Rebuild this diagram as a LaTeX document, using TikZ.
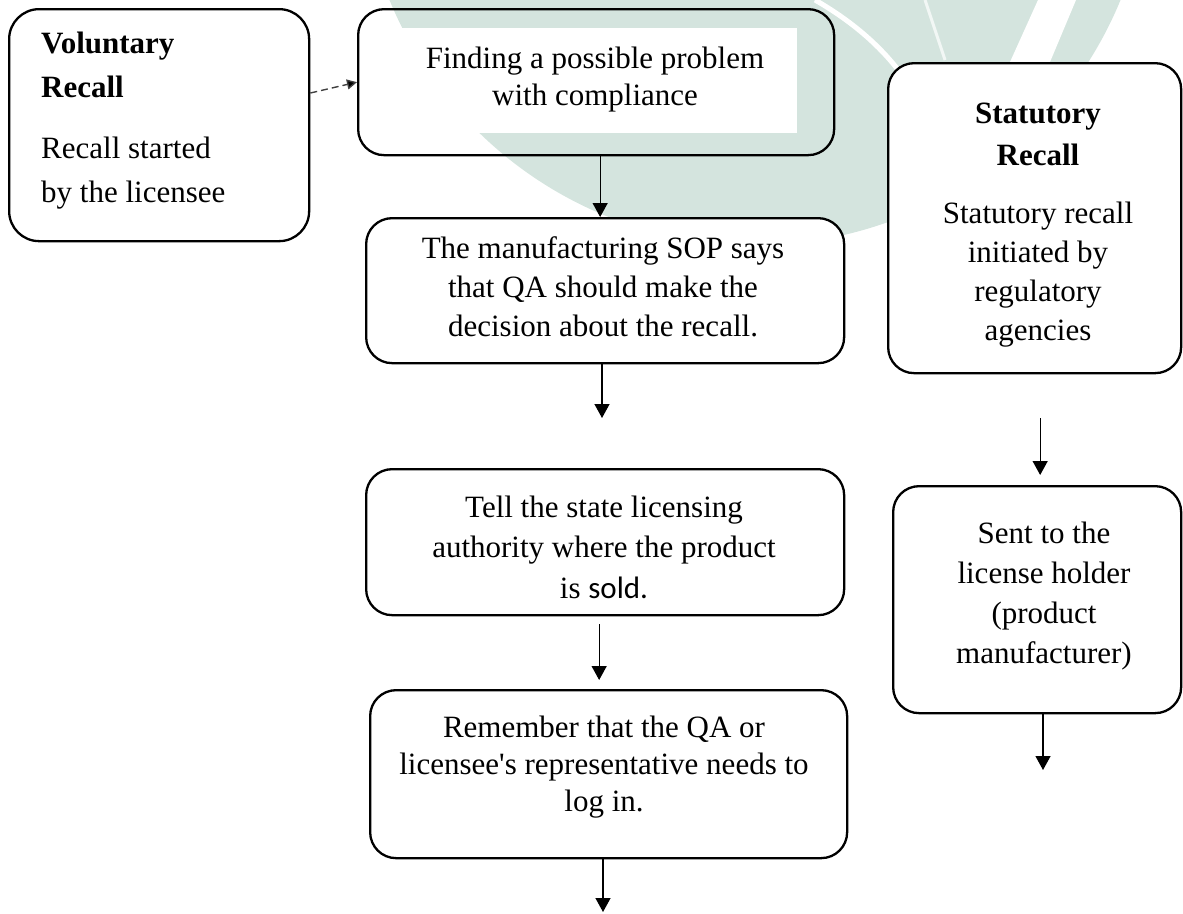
\documentclass[tikz,border=0pt]{standalone}
\usepackage{fontspec}
\setmainfont{Liberation Serif}
\newfontfamily\carlitofont{Carlito}
\usetikzlibrary{arrows.meta,calc}
\definecolor{wm}{RGB}{212,228,222}
\begin{document}
\begin{tikzpicture}[x=1pt,y=-1pt,
  box/.style={draw=black, line width=2.3pt, rounded corners=26pt, fill=white,
    anchor=north west, inner sep=0pt},
  txt/.style={inner sep=0pt, align=center, anchor=north, text=black},
  arr/.style={line width=1.3pt, -{Triangle[length=14pt,width=15pt]}},
  dasharr/.style={line width=1.4pt, draw=black!75, dash pattern=on 7pt off 4pt,
    -{Triangle[length=10pt,width=10pt,fill=black]}}
]
\useasboundingbox (0,0) rectangle (1183,913);
% watermark
\begin{scope}
\clip (0,0) rectangle (1183,913);
\fill[wm] (755,-150) circle[radius=395pt];
\draw[white, line width=5pt] (815,0) .. controls (850,20) and (880,45) .. (902,75);
\draw[white!70!wm, line width=3pt] (925,0) -- (945,60);
\fill[white] (1038,0) -- (1076,0) -- (1050,62) -- (1010,62) -- cycle;
\end{scope}

% boxes
\node[box, minimum width=300pt, minimum height=232pt, rounded corners=30pt] (vol) at (8,8) {};
\node[box, fill=none, minimum width=476pt, minimum height=146pt] (find) at (357,8) {};
\node[fill=white, inner sep=0pt, anchor=north west, minimum width=401pt, minimum height=105pt] (findbg) at (396,28) {};
\node[box, minimum width=478pt, minimum height=145pt] (manu) at (365,217) {};
\node[box, minimum width=478pt, minimum height=146pt] (tell) at (365,468) {};
\node[box, minimum width=477pt, minimum height=168pt] (remb) at (369,689) {};
\node[box, minimum width=293pt, minimum height=310pt] (stat) at (887,62) {};
\node[box, minimum width=288pt, minimum height=227pt] (sent) at (892,485) {};

% texts
\node[txt, anchor=north west, align=left, font=\fontsize{31}{44}\selectfont] (volt) at (41,22.2)
  {\strut\textbf{Voluntary}\\ \textbf{Recall}\\[17pt] Recall started\\ by the licensee};
\node[txt, font=\fontsize{31}{37}\selectfont] (findt) at (595,42.1)
  {\strut Finding a possible problem\\ with compliance};
\node[txt, font=\fontsize{31}{39}\selectfont] (manut) at (603,230.7)
  {\strut The manufacturing SOP says\\ that QA should make the\\ decision about the recall.};
\node[txt, font=\fontsize{31}{40.5}\selectfont] (tellt) at (604,488.6)
  {\strut Tell the state licensing\\ authority where the product\\ is {\carlitofont sold.}};
\node[txt, font=\fontsize{31}{37}\selectfont] (rembt) at (604,711.1)
  {\strut Remember that the QA or\\ licensee\textquotesingle s representative needs to\\ log in.};
\node[txt, font=\fontsize{31}{39}\selectfont] (statt) at (1038,95.7)
  {\strut\textbf{Statutory}\\[3pt] \textbf{Recall}\\[19pt] Statutory recall\\ initiated by\\ regulatory\\ agencies};
\node[txt, font=\fontsize{31}{40}\selectfont] (sentt) at (1044,515)
  {\strut Sent to the\\ license holder\\ (product\\ manufacturer)};

% free ends
\coordinate (manuout) at (602,418);
\coordinate (rembout) at (603,912);
\coordinate (sentout) at (1043,770);

% connectors
\draw[dasharr] (vol.12) -- (find.west);
\draw[arr] ([xshift=4pt]find.south) -- ([xshift=4pt]find.south |- manu.north);
\draw[arr] (manu.south -| manuout) -- (manuout);
\draw[arr, shorten <=8pt, shorten >=9pt] ([xshift=-6pt]tell.south) -- ([xshift=-6pt]tell.south |- remb.north);
\draw[arr] (remb.south -| rembout) -- (rembout);
\draw[arr, shorten <=44pt, shorten >=10pt] ([xshift=5.5pt]stat.south) -- ([xshift=5.5pt]stat.south |- sent.north);
\draw[arr] (sent.south -| sentout) -- (sentout);
\end{tikzpicture}
\end{document}
